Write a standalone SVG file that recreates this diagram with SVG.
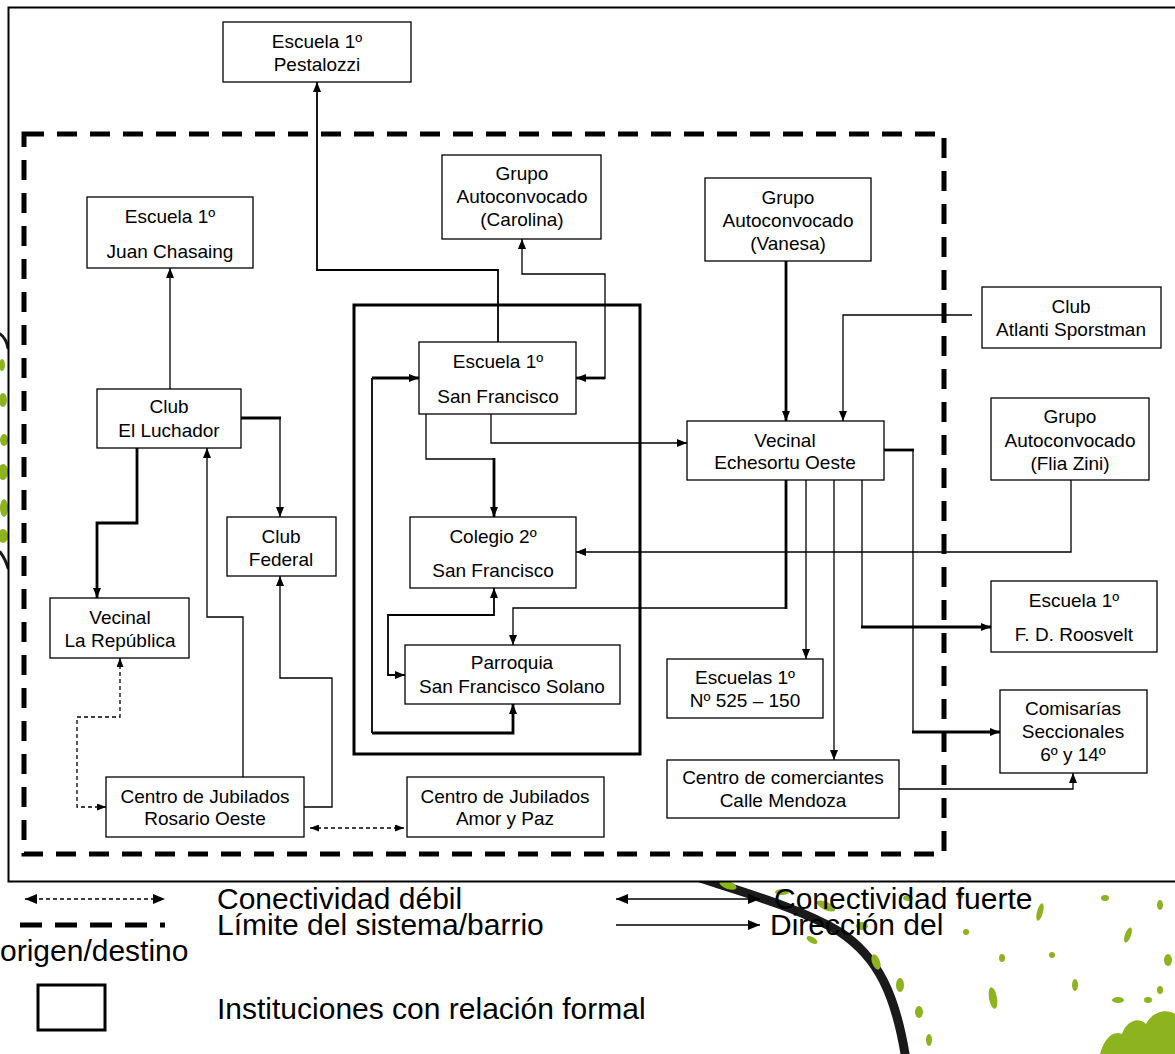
<svg xmlns="http://www.w3.org/2000/svg" width="1175" height="1054" viewBox="0 0 1175 1054">
  <style>
    .box { fill: #fff; stroke: #000; stroke-width: 1.3; }
    .formal { fill: none; stroke: #000; stroke-width: 3; }
    .lbl { font-family: "Liberation Sans", Arial, sans-serif; font-size: 19px; text-anchor: middle; fill: #000; }
    .leg { font-family: "Liberation Sans", Arial, sans-serif; font-size: 30px; fill: #000; }
    .thin { fill: none; stroke: #000; stroke-width: 1.3; }
    .mid { fill: none; stroke: #000; stroke-width: 1.8; }
    .thick { fill: none; stroke: #000; stroke-width: 2.8; }
    .weak { fill: none; stroke: #000; stroke-width: 1.3; stroke-dasharray: 4 3; }
    .limit { fill: none; stroke: #000; stroke-width: 5; stroke-dasharray: 20 13; }
    .leaf { fill: #8db31f; }
    .vine { fill: none; stroke: #1a1a1a; stroke-linecap: round; }
  </style>
  <defs>
    <marker id="ah" viewBox="0 0 10 8" refX="10" refY="4" markerWidth="10" markerHeight="8" markerUnits="userSpaceOnUse" orient="auto-start-reverse">
      <path d="M0,0 L10,4 L0,8 z" fill="#000"/>
    </marker>
    <marker id="ahs" viewBox="0 0 9 7" refX="9" refY="3.5" markerWidth="9" markerHeight="7" markerUnits="userSpaceOnUse" orient="auto-start-reverse">
      <path d="M0,0 L9,3.5 L0,7 z" fill="#000"/>
    </marker>
    <marker id="ahl" viewBox="0 0 12 10" refX="12" refY="5" markerWidth="12" markerHeight="10" markerUnits="userSpaceOnUse" orient="auto-start-reverse">
      <path d="M0,0 L12,5 L0,10 z" fill="#000"/>
    </marker>
  </defs>

  <!-- background vine decoration -->
  <g id="vine">
    <path class="vine" stroke-width="9" d="M700,878 C745,893 800,908 840,932 C878,957 896,995 906,1060"/>
    <path class="vine" stroke-width="3" d="M0,334 Q6,338 8,348"/>
    <path class="vine" stroke-width="3" d="M0,552 Q5,558 8,568"/>
    <ellipse class="leaf" cx="2" cy="365" rx="3" ry="6"/>
    <ellipse class="leaf" cx="3" cy="400" rx="4" ry="7"/>
    <ellipse class="leaf" cx="4" cy="440" rx="4" ry="6"/>
    <ellipse class="leaf" cx="3" cy="472" rx="5" ry="8"/>
    <ellipse class="leaf" cx="4" cy="508" rx="4" ry="9"/>
    <ellipse class="leaf" cx="3" cy="536" rx="5" ry="7"/>
    <ellipse class="leaf" cx="728" cy="885" rx="9" ry="4" transform="rotate(20 728 885)"/>
    <ellipse class="leaf" cx="782" cy="892" rx="7" ry="3"/>
    <ellipse class="leaf" cx="826" cy="906" rx="10" ry="4" transform="rotate(25 826 906)"/>
    <ellipse class="leaf" cx="862" cy="926" rx="6" ry="4"/>
    <ellipse class="leaf" cx="812" cy="940" rx="6" ry="3" transform="rotate(30 812 940)"/>
    <ellipse class="leaf" cx="876" cy="962" rx="4" ry="8" transform="rotate(-20 876 962)"/>
    <ellipse class="leaf" cx="900" cy="985" rx="4" ry="7"/>
    <ellipse class="leaf" cx="919" cy="1012" rx="4" ry="6"/>
    <ellipse class="leaf" cx="929" cy="1040" rx="3" ry="6"/>
    <ellipse class="leaf" cx="908" cy="898" rx="5" ry="3"/>
    <ellipse class="leaf" cx="960" cy="895" rx="3" ry="4"/>
    <ellipse class="leaf" cx="966" cy="932" rx="3" ry="3"/>
    <ellipse class="leaf" cx="1002" cy="958" rx="3" ry="4"/>
    <ellipse class="leaf" cx="993" cy="998" rx="4" ry="11" transform="rotate(-10 993 998)"/>
    <ellipse class="leaf" cx="1040" cy="912" rx="3" ry="9" transform="rotate(15 1040 912)"/>
    <ellipse class="leaf" cx="1052" cy="955" rx="3" ry="3"/>
    <ellipse class="leaf" cx="1075" cy="985" rx="3" ry="6"/>
    <ellipse class="leaf" cx="1105" cy="898" rx="4" ry="3"/>
    <ellipse class="leaf" cx="1128" cy="935" rx="3" ry="8" transform="rotate(20 1128 935)"/>
    <ellipse class="leaf" cx="1160" cy="905" rx="3" ry="5"/>
    <ellipse class="leaf" cx="1168" cy="960" rx="4" ry="6"/>
    <ellipse class="leaf" cx="1118" cy="1000" rx="6" ry="3"/>
    <path class="leaf" d="M1100,1054 C1104,1040 1112,1030 1122,1034 C1126,1022 1138,1016 1146,1024 C1152,1012 1166,1008 1175,1014 L1175,1054 Z"/>
    <ellipse class="leaf" cx="1148" cy="1000" rx="4" ry="3"/>
    <ellipse class="leaf" cx="1160" cy="990" rx="3" ry="4"/>
  </g>

  <!-- outer frame -->
  <rect x="8.5" y="7.5" width="1180" height="874" fill="#fff" stroke="#000" stroke-width="2"/>

  <!-- neighbourhood boundary and formal-relation frame -->
  <rect class="limit" x="24" y="134" width="920" height="720"/>
  <rect class="formal" x="354" y="305" width="286" height="449"/>

  <!-- connectors -->
  <g id="connectors">
    <path class="mid" d="M498,342 V270 H317 V82" marker-end="url(#ah)"/>
    <path class="thick" d="M605,378 H576" marker-end="url(#ah)"/>
    <path class="thin" d="M605,379 V274 H522 V239" marker-end="url(#ah)"/>
    <path class="thin" d="M170,389 V268" marker-end="url(#ah)"/>
    <path class="thick" d="M241,418 H281"/>
    <path class="thin" d="M280,417 V517" marker-end="url(#ah)"/>
    <path class="thick" d="M137,448 V523 H97 V598" marker-end="url(#ah)"/>
    <path class="thin" d="M243,777 V617 H207 V448" marker-end="url(#ah)"/>
    <path class="thin" d="M304,807 H332 V678 H280 V576" marker-end="url(#ah)"/>
    <path class="weak" d="M120,658 V717 H77 V807 H106" marker-start="url(#ahs)" marker-end="url(#ahs)"/>
    <path class="weak" d="M310,828 H404" marker-start="url(#ahs)" marker-end="url(#ahs)"/>
    <path class="thin" d="M491,414 V443 H687" marker-end="url(#ah)"/>
    <path class="thin" d="M426,414 V459 H495"/>
    <path class="thick" d="M494,458 V517" marker-end="url(#ah)"/>
    <path class="thick" d="M372,733 H513 V704" marker-end="url(#ah)"/>
    <path class="thick" d="M372,378 H419" marker-end="url(#ah)"/>
    <path class="mid" d="M372,733 V378"/>
    <path class="mid" d="M494,588 V615 H388 V675 H405" marker-start="url(#ah)" marker-end="url(#ah)"/>
    <path class="thick" d="M786,480 V609"/>
    <path class="thin" d="M787,608 H513 V645" marker-end="url(#ah)"/>
    <path class="thin" d="M1071,480 V552 H576" marker-end="url(#ah)"/>
    <path class="thick" d="M786,261 V421" marker-end="url(#ah)"/>
    <path class="thin" d="M972,315 H843 V421" marker-end="url(#ah)"/>
    <path class="thin" d="M806,480 V659" marker-end="url(#ah)"/>
    <path class="thin" d="M834,480 V760" marker-end="url(#ah)"/>
    <path class="thin" d="M862,480 V627"/>
    <path class="thick" d="M861,627 H991" marker-end="url(#ah)"/>
    <path class="thick" d="M884,450 H914"/>
    <path class="thin" d="M913,450 V732"/>
    <path class="thick" d="M912,732 H1000" marker-end="url(#ah)"/>
    <path class="thin" d="M899,789 H1073 V773" marker-end="url(#ah)"/>
  </g>

  <!-- nodes -->
  <g id="pestalozzi">
    <rect class="box" x="223" y="22" width="188" height="60"/>
    <text class="lbl" x="317" y="48">Escuela 1º</text>
    <text class="lbl" x="317" y="71">Pestalozzi</text>
  </g>
  <g id="juan-chasaing">
    <rect class="box" x="87" y="197" width="166" height="71"/>
    <text class="lbl" x="170" y="223">Escuela 1º</text>
    <text class="lbl" x="170" y="258">Juan Chasaing</text>
  </g>
  <g id="grupo-carolina">
    <rect class="box" x="442" y="155" width="159" height="84"/>
    <text class="lbl" x="522" y="180">Grupo</text>
    <text class="lbl" x="522" y="203">Autoconvocado</text>
    <text class="lbl" x="522" y="226">(Carolina)</text>
  </g>
  <g id="grupo-vanesa">
    <rect class="box" x="705" y="178" width="166" height="83"/>
    <text class="lbl" x="788" y="204">Grupo</text>
    <text class="lbl" x="788" y="227">Autoconvocado</text>
    <text class="lbl" x="788" y="250">(Vanesa)</text>
  </g>
  <g id="club-atlanti">
    <rect class="box" x="982" y="287" width="179" height="61"/>
    <text class="lbl" x="1071" y="313">Club</text>
    <text class="lbl" x="1071" y="336">Atlanti Sporstman</text>
  </g>
  <g id="grupo-zini">
    <rect class="box" x="991" y="398" width="158" height="82"/>
    <text class="lbl" x="1070" y="423">Grupo</text>
    <text class="lbl" x="1070" y="447">Autoconvocado</text>
    <text class="lbl" x="1070" y="470">(Flia Zini)</text>
  </g>
  <g id="club-luchador">
    <rect class="box" x="97" y="389" width="144" height="59"/>
    <text class="lbl" x="169" y="413">Club</text>
    <text class="lbl" x="169" y="437">El Luchador</text>
  </g>
  <g id="club-federal">
    <rect class="box" x="227" y="517" width="109" height="59"/>
    <text class="lbl" x="281" y="543">Club</text>
    <text class="lbl" x="281" y="566">Federal</text>
  </g>
  <g id="vecinal-republica">
    <rect class="box" x="50" y="598" width="139" height="60"/>
    <text class="lbl" x="120" y="624">Vecinal</text>
    <text class="lbl" x="120" y="647">La República</text>
  </g>
  <g id="jubilados-rosario">
    <rect class="box" x="106" y="777" width="198" height="60"/>
    <text class="lbl" x="205" y="803">Centro de Jubilados</text>
    <text class="lbl" x="205" y="825">Rosario Oeste</text>
  </g>
  <g id="jubilados-amor">
    <rect class="box" x="407" y="777" width="197" height="60"/>
    <text class="lbl" x="505" y="803">Centro de Jubilados</text>
    <text class="lbl" x="505" y="825">Amor y Paz</text>
  </g>
  <g id="escuela-san-francisco">
    <rect class="box" x="419" y="342" width="157" height="72"/>
    <text class="lbl" x="498" y="368">Escuela 1º</text>
    <text class="lbl" x="498" y="403">San Francisco</text>
  </g>
  <g id="colegio-san-francisco">
    <rect class="box" x="410" y="517" width="166" height="71"/>
    <text class="lbl" x="493" y="543">Colegio 2º</text>
    <text class="lbl" x="493" y="577">San Francisco</text>
  </g>
  <g id="parroquia">
    <rect class="box" x="405" y="645" width="215" height="59"/>
    <text class="lbl" x="512" y="669">Parroquia</text>
    <text class="lbl" x="512" y="693">San Francisco Solano</text>
  </g>
  <g id="vecinal-echesortu">
    <rect class="box" x="687" y="421" width="197" height="59"/>
    <text class="lbl" x="785" y="447">Vecinal</text>
    <text class="lbl" x="785" y="469">Echesortu Oeste</text>
  </g>
  <g id="escuelas-525-150">
    <rect class="box" x="667" y="659" width="156" height="59"/>
    <text class="lbl" x="745" y="684">Escuelas 1º</text>
    <text class="lbl" x="745" y="707">Nº 525 – 150</text>
  </g>
  <g id="comerciantes-mendoza">
    <rect class="box" x="667" y="760" width="232" height="58"/>
    <text class="lbl" x="783" y="784">Centro de comerciantes</text>
    <text class="lbl" x="783" y="807">Calle Mendoza</text>
  </g>
  <g id="escuela-roosvelt">
    <rect class="box" x="991" y="581" width="166" height="71"/>
    <text class="lbl" x="1074" y="607">Escuela 1º</text>
    <text class="lbl" x="1074" y="641">F. D. Roosvelt</text>
  </g>
  <g id="comisarias">
    <rect class="box" x="1000" y="690" width="147" height="83"/>
    <text class="lbl" x="1073" y="715">Comisarías</text>
    <text class="lbl" x="1073" y="738">Seccionales</text>
    <text class="lbl" x="1073" y="761">6º y 14º</text>
  </g>

  <!-- legend -->
  <g id="legend">
    <path class="weak" d="M25,899 H165" marker-start="url(#ahl)" marker-end="url(#ahl)"/>
    <text class="leg" x="217" y="909">Conectividad débil</text>
    <path class="thin" d="M616,899 H760" marker-start="url(#ahl)" marker-end="url(#ahl)"/>
    <text class="leg" x="774" y="909">Conectividad fuerte</text>
    <path fill="none" stroke="#000" stroke-width="5" stroke-dasharray="22 13" d="M20,925 H165"/>
    <text class="leg" x="217" y="935">Límite del sistema/barrio</text>
    <path class="thin" d="M616,925 H760" marker-end="url(#ahl)"/>
    <text class="leg" x="770" y="935">Dirección del</text>
    <text class="leg" x="0" y="961">origen/destino</text>
    <rect x="38" y="985" width="67" height="45" fill="none" stroke="#000" stroke-width="3"/>
    <text class="leg" x="217" y="1019">Instituciones con relación formal</text>
  </g>
</svg>
